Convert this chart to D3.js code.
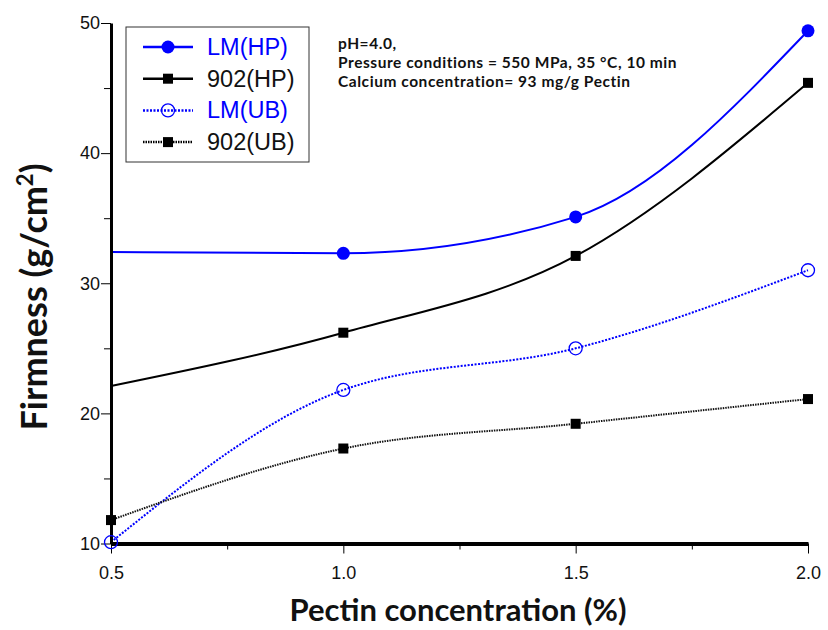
<!DOCTYPE html>
<html><head><meta charset="utf-8">
<script src="https://cdn.jsdelivr.net/npm/d3@7"></script>
<style>body{margin:0;background:#fff}svg{display:block}</style>
</head><body>
<svg id="c" width="828" height="630"></svg>
<script>
const xValues = [0.5, 1.0, 1.5, 2.0];
const lmHP   = [32.4, 32.3, 35.1, 49.4];
const hp902  = [22.1, 26.2, 32.1, 45.4];
const lmUB   = [10.1, 21.8, 25.0, 31.0];
const ub902  = [11.8, 17.3, 19.2, 21.1];
const seriesNames = ["LM(HP)", "902(HP)", "LM(UB)", "902(UB)"];
const xTicks = [0.5, 1.0, 1.5, 2.0];
const xMinor = [0.75, 1.25, 1.75];
const yTicks = [10, 20, 30, 40, 50];
const yMinor = [15, 25, 35, 45];
const notes = ["pH=4.0,", "Pressure conditions = 550 MPa, 35 \u00B0C, 10 min", "Calcium concentration= 93 mg/g Pectin"];

const svg = d3.select("#c");
const x = d3.scaleLinear().domain([0.5, 2.0]).range([111, 808]);
const y = d3.scaleLinear().domain([10, 50]).range([543.5, 23]);

const series = [
  {name: seriesNames[0], vals: lmHP, color: "#0000ff", dash: null, marker: "fcircle", skipFirst: true},
  {name: seriesNames[1], vals: hp902, color: "#000", dash: null, marker: "square", skipFirst: true},
  {name: seriesNames[2], vals: lmUB, color: "#0000ff", dash: "2,1.5", marker: "ocircle", skipFirst: false},
  {name: seriesNames[3], vals: ub902, color: "#111", dash: "1.5,1", marker: "square", skipFirst: false}
];

const line = d3.line().x(d => x(d[0])).y(d => y(d[1])).curve(d3.curveMonotoneX);

// lines
series.forEach(s => {
  svg.append("path").datum(xValues.map((v, i) => [v, s.vals[i]]))
    .attr("d", line).attr("fill", "none").attr("stroke", s.color)
    .attr("stroke-width", 2).attr("stroke-dasharray", s.dash);
});

// axes
const xAxis = svg.append("g").attr("transform", `translate(0,${y(10)})`)
  .call(d3.axisBottom(x).tickValues(xTicks).tickFormat(d3.format(".1f")).tickSize(10).tickSizeOuter(0));
xAxis.select(".domain").attr("stroke-width", 4);
xAxis.selectAll(".tick line").attr("stroke-width", 1);
xAxis.selectAll(".tick text").attr("font-family", "Liberation Sans, Arial").attr("font-size", 18).attr("dy", "1.25em").attr("fill", "#111");
svg.append("g").attr("transform", `translate(0,${y(10)})`)
  .call(d3.axisBottom(x).tickValues(xMinor).tickFormat("").tickSize(6).tickSizeOuter(0))
  .select(".domain").remove();

const yAxis = svg.append("g").attr("transform", `translate(${x(0.5)},0)`)
  .call(d3.axisLeft(y).tickValues(yTicks).tickSize(10).tickSizeOuter(0));
yAxis.select(".domain").attr("stroke-width", 3);
yAxis.selectAll(".tick text").attr("font-family", "Liberation Sans, Arial").attr("font-size", 18).attr("fill", "#111").attr("x", -11);
svg.append("g").attr("transform", `translate(${x(0.5)},0)`)
  .call(d3.axisLeft(y).tickValues(yMinor).tickFormat("").tickSize(7).tickSizeOuter(0))
  .select(".domain").remove();

// markers
function drawMarker(g, type, cx, cy, color) {
  if (type === "fcircle") g.append("circle").attr("cx", cx).attr("cy", cy).attr("r", 6.5).attr("fill", color);
  else if (type === "ocircle") g.append("circle").attr("cx", cx).attr("cy", cy).attr("r", 6.5).attr("fill", "none").attr("stroke", color).attr("stroke-width", 1.3);
  else g.append("rect").attr("x", cx - 5).attr("y", cy - 5).attr("width", 10).attr("height", 10).attr("fill", "#000");
}
series.forEach(s => {
  const g = svg.append("g");
  xValues.forEach((v, i) => {
    if (s.skipFirst && i === 0) return;
    drawMarker(g, s.marker, x(v), y(s.vals[i]), s.color);
  });
});

// legend
const lg = svg.append("g");
lg.append("rect").attr("x", 126).attr("y", 27).attr("width", 183).attr("height", 135)
  .attr("fill", "#fff").attr("stroke", "#333").attr("stroke-width", 1);
series.forEach((s, i) => {
  const cy = 47 + i * 31.7;
  lg.append("line").attr("x1", 143).attr("x2", 193).attr("y1", cy).attr("y2", cy)
    .attr("stroke", s.color === "#111" ? "#000" : s.color).attr("stroke-width", 2.5).attr("stroke-dasharray", s.dash);
  drawMarker(lg, s.marker, 168, cy, s.color);
  lg.append("text").attr("x", 207).attr("y", cy + 8).text(s.name)
    .attr("font-family", "Liberation Sans, Arial").attr("font-size", 23.5)
    .attr("fill", s.color === "#0000ff" ? "#0000ff" : "#111");
});

// notes
notes.forEach((t, i) => {
  svg.append("text").attr("x", 338).attr("y", 49 + i * 19).text(t)
    .attr("font-family", "Lato").attr("font-weight", "bold").attr("font-size", 15.5)
    .attr("letter-spacing", 0.55).attr("fill", "#111");
});

// axis titles
svg.append("text").attr("x", 458).attr("y", 621).attr("text-anchor", "middle")
  .attr("font-family", "Lato").attr("font-weight", "bold").attr("font-size", 31).attr("fill", "#111")
  .text("Pectin concentration (%)");
const yt = svg.append("text").attr("transform", `translate(47,297) rotate(-90)`).attr("text-anchor", "middle")
  .attr("font-family", "Lato").attr("font-weight", "bold").attr("font-size", 36).attr("fill", "#111");
yt.append("tspan").text("Firmness (g/cm");
yt.append("tspan").text("2").attr("font-size", 22).attr("dy", -14);
yt.append("tspan").text(")").attr("dy", 14);
</script>
</body></html>
